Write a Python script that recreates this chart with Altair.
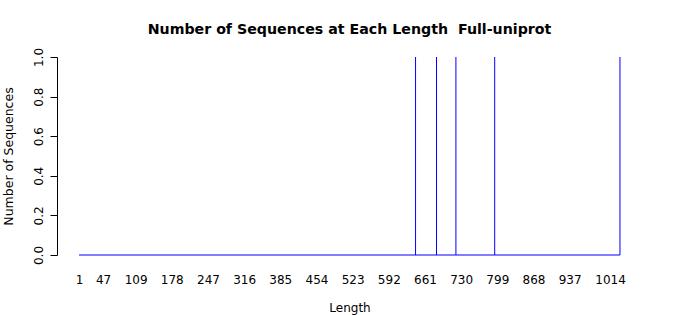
import altair as alt
import pandas as pd

# Data
lengths = [643, 683, 720, 794, 1033]
counts = [1, 1, 1, 1, 1]
len_min, len_max = 1, 1033
x_tick_labels = [1, 47, 109, 178, 247, 316, 385, 454, 523, 592, 661, 730, 799, 868, 937, 1014]
y_ticks = [0.0, 0.2, 0.4, 0.6, 0.8, 1.0]

bars = pd.DataFrame({"Length": lengths, "Count": counts, "Base": [0] * len(lengths)})
base = pd.DataFrame({"Length": [len_min], "x2": [len_max], "Base": [0]})

BLUE = "#0000FF"
FONT = "DejaVu Sans"

x_scale = alt.Scale(domain=[-41, 1075], nice=False, zero=False)
y_scale = alt.Scale(domain=[0, 1], nice=False)

x_axis = alt.Axis(
    values=x_tick_labels, format="d", domain=False, ticks=False, grid=False,
    labelFont=FONT, labelFontSize=12, labelColor="black", labelPadding=19,
    labelFlush=False, labelOverlap=False,
    title="Length", titleFont=FONT, titleFontSize=12, titleFontWeight="normal",
    titleColor="black", titlePadding=17,
)
y_axis = alt.Axis(
    values=y_ticks, format=".1f", grid=False, domainColor="black", tickColor="black",
    tickSize=7, labelAngle=270, labelAlign="center", labelBaseline="bottom",
    labelFont=FONT, labelFontSize=12, labelColor="black", labelPadding=5,
    labelFlush=False, labelOverlap=False,
    title="Number of Sequences", titleFont=FONT, titleFontSize=12.5,
    titleFontWeight="normal", titleColor="black", titlePadding=17,
)

baseline = alt.Chart(base).mark_rule(color=BLUE, strokeWidth=1).encode(
    x=alt.X("Length:Q", scale=x_scale, axis=x_axis),
    x2="x2:Q",
    y=alt.Y("Base:Q", scale=y_scale, axis=y_axis),
)

spikes = alt.Chart(bars).mark_rule(color=BLUE, strokeWidth=1).encode(
    x=alt.X("Length:Q", scale=x_scale, axis=x_axis),
    y=alt.Y("Base:Q", scale=y_scale, axis=y_axis),
    y2="Count:Q",
)

chart = alt.layer(baseline, spikes).properties(
    width=585,
    height=198,
    autosize=alt.AutoSizeParams(type="none"),
    padding={"left": 57, "top": 57, "right": 58, "bottom": 60},
    background="white",
    title=alt.TitleParams(
        "Number of Sequences at Each Length\u00a0 Full-uniprot",
        font=FONT, fontSize=14.2, fontWeight="bold", color="black",
        anchor="middle", frame="group", offset=10,
    ),
).configure_view(stroke=None)

chart.save("out.html", embed_options={"renderer": "svg", "actions": False})
